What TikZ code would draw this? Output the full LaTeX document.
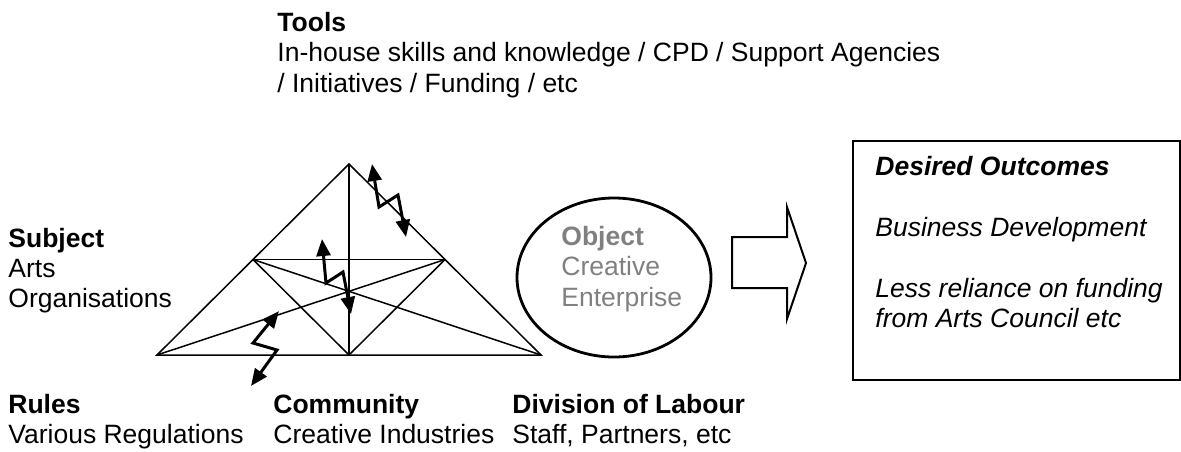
\documentclass[tikz,border=0pt]{standalone}
\usepackage{fontspec}
\setmainfont{Liberation Sans}
\usetikzlibrary{arrows.meta,shapes.geometric}
\definecolor{objgray}{HTML}{808080}
\newcommand{\lblfont}{\fontsize{13.25}{15.25}\selectfont}
\begin{document}
\begin{tikzpicture}[x=0.5pt,y=-0.5pt,
  txt/.style={anchor=base west,inner sep=0pt,font=\lblfont},
  btxt/.style={anchor=base west,inner sep=0pt,font=\lblfont\bfseries},
  itxt/.style={anchor=base west,inner sep=0pt,font=\lblfont\itshape},
  bitxt/.style={anchor=base west,inner sep=0pt,font=\lblfont\bfseries\itshape},
  gtxt/.style={txt,text=objgray},
  gbtxt/.style={btxt,text=objgray},
  triline/.style={line width=0.75pt,line join=miter},
  zig/.style={line width=1.5pt,line join=miter,
    {Triangle[length=8.5pt,width=7pt]}-{Triangle[length=8.5pt,width=7pt]}},
]
\useasboundingbox (0,0) rectangle (1181,451);

% triangle points
\coordinate (A) at (349,164);
\coordinate (BL) at (157,355);
\coordinate (BR) at (541,355);
\coordinate (BM) at (349,355);
\coordinate (ML) at (253,259.5);
\coordinate (MR) at (445,259.5);

\draw[triline] (A) -- (BL) -- (BR) -- cycle;
\draw[triline] (A) -- (BM);
\draw[triline] (ML) -- (MR);
\draw[triline] (ML) -- (BM) -- (MR);
\draw[triline] (ML) -- (BR);
\draw[triline] (MR) -- (BL);

% lightning arrows
\coordinate (z1a) at (372,164);
\coordinate (z1b) at (379,207);
\coordinate (z1c) at (398,195);
\coordinate (z1d) at (406,237);
\draw[zig] (z1a) -- (z1b) -- (z1c) -- (z1d);

\coordinate (z2a) at (322,239);
\coordinate (z2b) at (326,283);
\coordinate (z2c) at (343,272);
\coordinate (z2d) at (351,314);
\draw[zig] (z2a) -- (z2b) -- (z2c) -- (z2d);

\coordinate (z3a) at (279,311);
\coordinate (z3b) at (253,343);
\coordinate (z3c) at (277,350);
\coordinate (z3d) at (251,386);
\draw[zig] (z3a) -- (z3b) -- (z3c) -- (z3d);

% object ellipse
\node[ellipse,draw,line width=1.4pt,inner sep=0pt,minimum width=97pt,minimum height=79.5pt] (obj) at (614,277.5) {};
\node[gbtxt] (objt1) at (561,245) {Object};
\node[gtxt] (objt2) at (561,275.5) {Creative};
\node[gtxt] (objt3) at (561,306) {Enterprise};

% block arrow
\draw[line width=1pt,line join=miter] (732,237) -- (787,237) -- (787,207) -- (806,263) -- (787,319) -- (787,288) -- (732,288) -- cycle;

% outcomes box
\draw[line width=0.75pt] (853,141) rectangle (1180,380);
\node[bitxt] (o1) at (875,175) {Desired Outcomes};
\node[itxt] (o2) at (875,236) {Business Development};
\node[itxt] (o3) at (875,297) {Less reliance on funding};
\node[itxt] (o4) at (875,327.5) {from Arts Council etc};

% tools
\node[btxt] (t1) at (277,31) {Tools};
\node[txt] (t2) at (277,61.5) {In-house skills and knowledge / CPD / Support Agencies};
\node[txt] (t3) at (277,92) {/ Initiatives / Funding / etc};

% subject
\node[btxt] (s1) at (8,247) {Subject};
\node[txt] (s2) at (8,277) {Arts};
\node[txt] (s3) at (8,307) {Organisations};

% bottom labels
\node[btxt] (r1) at (8,413) {Rules};
\node[txt] (r2) at (8,443) {Various Regulations};
\node[btxt] (c1) at (273,413) {Community};
\node[txt] (c2) at (273,443) {Creative Industries};
\node[btxt] (d1) at (512,413) {Division of Labour};
\node[txt] (d2) at (512,443) {Staff, Partners, etc};
\end{tikzpicture}
\end{document}
